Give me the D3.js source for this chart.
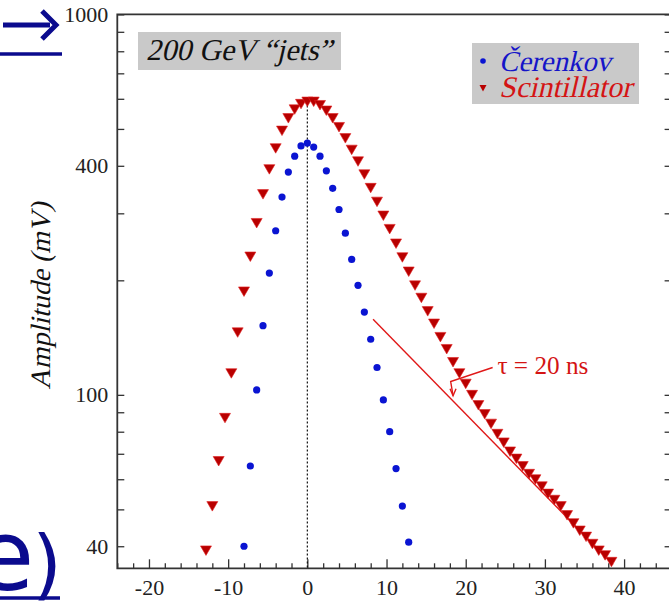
<!DOCTYPE html>
<html>
<head>
<meta charset="utf-8">
<script src="https://cdn.jsdelivr.net/npm/d3@7"></script>
<style>
  body { margin: 0; background: #fff; }
  svg { display: block; }
  .tick text { font-family: 'Liberation Serif', serif; font-size: 22px; fill: #222; }
</style>
</head>
<body>
<div id="chart"></div>
<script>
'use strict';
// Pulse shape data (time in ns, amplitude in mV)
const cerTime = [-8, -7.2, -6.4, -5.6, -4.8, -4, -3.2, -2.4, -1.6, -0.8, 0, 0.8, 1.6, 2.4, 3.2, 4, 4.8, 5.6, 6.4, 7.2, 8, 8.8, 9.6, 10.4, 11.2, 12, 12.8]
const cerAmp = [40, 65, 103, 152, 209, 270, 331, 385, 424, 451, 459, 448, 424, 388, 349, 307, 266, 227, 194, 165, 140, 118, 97, 80, 64, 51, 41]
const sciTime = [-12.8, -12, -11.2, -10.4, -9.6, -8.8, -8, -7.2, -6.4, -5.6, -4.8, -4, -3.2, -2.4, -1.6, -0.8,
    0, 0.8, 1.6, 2.4, 3.2, 4, 4.8, 5.6, 6.4, 7.2, 8, 8.8, 9.6, 10.4, 11.2, 12, 12.8, 13.6, 14.4, 15.2,
    16, 16.8, 17.6, 18.4, 19.2, 20, 20.8, 21.6, 22.4, 23.2, 24, 24.8, 25.6, 26.4, 27.2, 28, 28.8, 29.6,
    30.4, 31.2, 32, 32.8, 33.6, 34.4, 35.2, 36, 36.8, 37.6, 38.4]
const sciAmp = [39, 51, 67, 87, 114, 146, 187, 231, 283, 337, 392, 445, 495, 534, 563, 582,
    590, 590, 578, 559, 534, 506, 473, 441, 411, 380, 350, 322, 296, 273, 250, 230, 211, 194, 180, 166,
    154, 142, 132, 122, 114, 107, 100, 94, 89, 84, 79, 75, 71, 68, 65, 62, 60, 57.5,
    55, 53, 51, 48.3, 46, 44, 42.4, 40.6, 39, 37.9, 36.4]
const tauFit = [{t: 8.3, v: 158}, {t: 38.6, v: 35.8}]
const tauArrow = [{t: 23.4, v: 118}, {t: 18.1, v: 108.4}, {t: 18.4, v: 99.5}]
const tauLabel = {t: 24.0, v: 113.5, text: 'τ = 20 ns'}
const xTicks = [-20, -10, 0, 10, 20, 30, 40]
const yTickLabels = [40, 100, 400, 1000]
const seriesNames = ['Čerenkov', 'Scintillator']
const titleText = '200 GeV “jets”'
const yTitle = 'Amplitude (mV)'

const W = 669, H = 604
const x = d3.scaleLinear().domain([-24, 46]).range([117.3, 671.6])
const y = d3.scaleLog().domain([35, 1000]).range([568.3, 14.4])
const plotLeft = x.range()[0], plotRight = x.range()[1]
const plotTop = y.range()[1], plotBottom = y.range()[0]
const serif = 'Liberation Serif, Times New Roman, serif'

const svg = d3.select('#chart').append('svg')
    .attr('width', W)
    .attr('height', H)

// scale a text's font size so it spans the wanted width
function fitText(sel, width) {
    const base = +sel.attr('font-size')
    const len = sel.node().getComputedTextLength()
    sel.attr('font-size', base * width / len)
    return sel
}

// slanted serif text (drawn as skewed upright glyphs)
function italicText(tx, ty, size, color, str, width, extra) {
    const g = svg.append('g').attr('transform', `translate(${tx},${ty})${extra || ''} skewX(-13)`)
    const t = g.append('text')
        .attr('font-family', serif)
        .attr('font-size', size)
        .attr('fill', color)
        .text(str)
    if (width) fitText(t, width)
    return t
}

const cerData = cerTime.map((t, i) => ({t: t, v: cerAmp[i]}))
const sciData = sciTime.map((t, i) => ({t: t, v: sciAmp[i]}))

// Minor x ticks every 2 ns
const xMinor = d3.range(-24, 47, 2).filter(d => d % 10 !== 0)
svg.append('g')
    .attr('transform', `translate(0,${plotBottom})`)
    .call(d3.axisBottom(x).tickValues(xMinor).tickSize(-5).tickFormat(''))
    .call(g => g.select('.domain').remove())
svg.append('g')
    .attr('class', 'xAxis')
    .attr('transform', `translate(0,${plotBottom})`)
    .call(d3.axisBottom(x).tickValues(xTicks).tickSizeInner(-9).tickSizeOuter(0).tickPadding(11)
        .tickFormat(d => String(d)))
    .call(g => g.select('.domain').remove())

// Y ticks: every integer multiple in each decade, labels only on some
const yAll = []
for (const dec of [10, 100]) for (let m = 1; m <= 9; m++) if (m * dec >= 35 && m * dec <= 1000) yAll.push(m * dec)
yAll.push(1000)
svg.append('g')
    .attr('class', 'yAxis')
    .attr('transform', `translate(${plotLeft},0)`)
    .call(d3.axisLeft(y).tickValues(yAll).tickSizeInner(-7).tickSizeOuter(0).tickPadding(9)
        .tickFormat(d => yTickLabels.includes(d) ? String(d) : ''))
    .call(g => g.select('.domain').remove())
svg.append('g')
    .attr('transform', `translate(${plotRight},0)`)
    .call(d3.axisRight(y).tickValues(yAll).tickSizeInner(-7).tickSizeOuter(0).tickFormat(''))
    .call(g => g.select('.domain').remove())
svg.selectAll('.tick line').attr('stroke', '#333').attr('stroke-width', 1.3)

// Frame
svg.append('path')
    .attr('d', `M${plotLeft},${plotBottom} L${plotLeft},${plotTop} L${plotRight},${plotTop} L${plotRight},${plotBottom} Z`)
    .attr('fill', 'none')
    .attr('stroke', '#333')
    .attr('stroke-width', 1.8)

// Dotted zero line
svg.append('line')
    .attr('x1', x(0)).attr('x2', x(0))
    .attr('y1', y(d3.max(sciAmp)) + 4).attr('y2', plotBottom)
    .attr('stroke', '#111')
    .attr('stroke-width', 1.2)
    .attr('stroke-dasharray', '2,2')

// Tau fit line
const tline = d3.line().x(d => x(d.t)).y(d => y(d.v))
svg.append('path').datum(tauFit)
    .attr('d', tline)
    .attr('fill', 'none')
    .attr('stroke', '#e01818')
    .attr('stroke-width', 1.4)

// Tau annotation arrow
svg.append('path').datum(tauArrow)
    .attr('d', tline)
    .attr('fill', 'none')
    .attr('stroke', '#e01818')
    .attr('stroke-width', 1.4)
const tip = tauArrow[tauArrow.length - 1]
svg.append('path')
    .attr('d', `M${x(tip.t) - 3},${y(tip.v) - 7} L${x(tip.t)},${y(tip.v)} L${x(tip.t) + 3},${y(tip.v) - 7}`)
    .attr('fill', 'none')
    .attr('stroke', '#e01818')
    .attr('stroke-width', 1.4)
fitText(svg.append('text')
    .attr('x', x(tauLabel.t))
    .attr('y', y(tauLabel.v))
    .attr('font-family', serif)
    .attr('font-size', 23)
    .attr('fill', '#d41414')
    .text(tauLabel.text), 91)

// Scintillator triangles
const tri = 'M-5.5,-4.5 L5.5,-4.5 L0,5 Z'
svg.append('g').selectAll('path').data(sciData).join('path')
    .attr('d', tri)
    .attr('transform', d => `translate(${x(d.t)},${y(d.v)})`)
    .attr('fill', '#b80000')
    .attr('stroke', '#e02020')
    .attr('stroke-width', 0.6)

// Cerenkov dots
svg.append('g').selectAll('circle').data(cerData).join('circle')
    .attr('cx', d => x(d.t))
    .attr('cy', d => y(d.v))
    .attr('r', 3.6)
    .attr('fill', '#0a14d2')

// Title box
svg.append('rect')
    .attr('x', 138).attr('y', 32).attr('width', 203).attr('height', 38)
    .attr('fill', '#c9c9c9')
italicText(146, 60, 28, '#111', titleText, 186)

// Legend
svg.append('rect')
    .attr('x', 472).attr('y', 43).attr('width', 167).attr('height', 61)
    .attr('fill', '#c9c9c9')
svg.append('circle')
    .attr('cx', 483).attr('cy', 61).attr('r', 2.8)
    .attr('fill', '#0a14d2')
svg.append('path')
    .attr('d', 'M-3.5,-3 L3.5,-3 L0,3.5 Z')
    .attr('transform', 'translate(483,88)')
    .attr('fill', '#b80000')
italicText(499, 71, 27, '#1515c8', seriesNames[0], 112)
italicText(499, 97, 27, '#d41414', seriesNames[1], 133)

// Y axis title
italicText(50, 296, 28, '#111', yTitle, 187, ' rotate(-90)')
    .attr('text-anchor', 'middle')

// Slide fragments around the chart
const navy = '#0b0b8e'
svg.append('line')
    .attr('x1', 3).attr('x2', 50).attr('y1', 25).attr('y2', 25)
    .attr('stroke', navy).attr('stroke-width', 5)
svg.append('path')
    .attr('d', 'M42,11 L56,25 L42,39')
    .attr('fill', 'none')
    .attr('stroke', navy).attr('stroke-width', 5)
svg.append('line')
    .attr('x1', 0).attr('x2', 62).attr('y1', 54).attr('y2', 54)
    .attr('stroke', navy).attr('stroke-width', 3.5)
svg.append('text')
    .attr('x', -26).attr('y', 590)
    .attr('font-family', 'DejaVu Sans, sans-serif')
    .attr('fill', navy)
    .call(t => t.append('tspan').attr('font-size', 98).text('e'))
    .call(t => t.append('tspan').attr('font-size', 76).attr('dx', -2).text(')'))
svg.append('line')
    .attr('x1', 0).attr('x2', 60).attr('y1', 598).attr('y2', 598)
    .attr('stroke', navy).attr('stroke-width', 3.5)
</script>
</body>
</html>
